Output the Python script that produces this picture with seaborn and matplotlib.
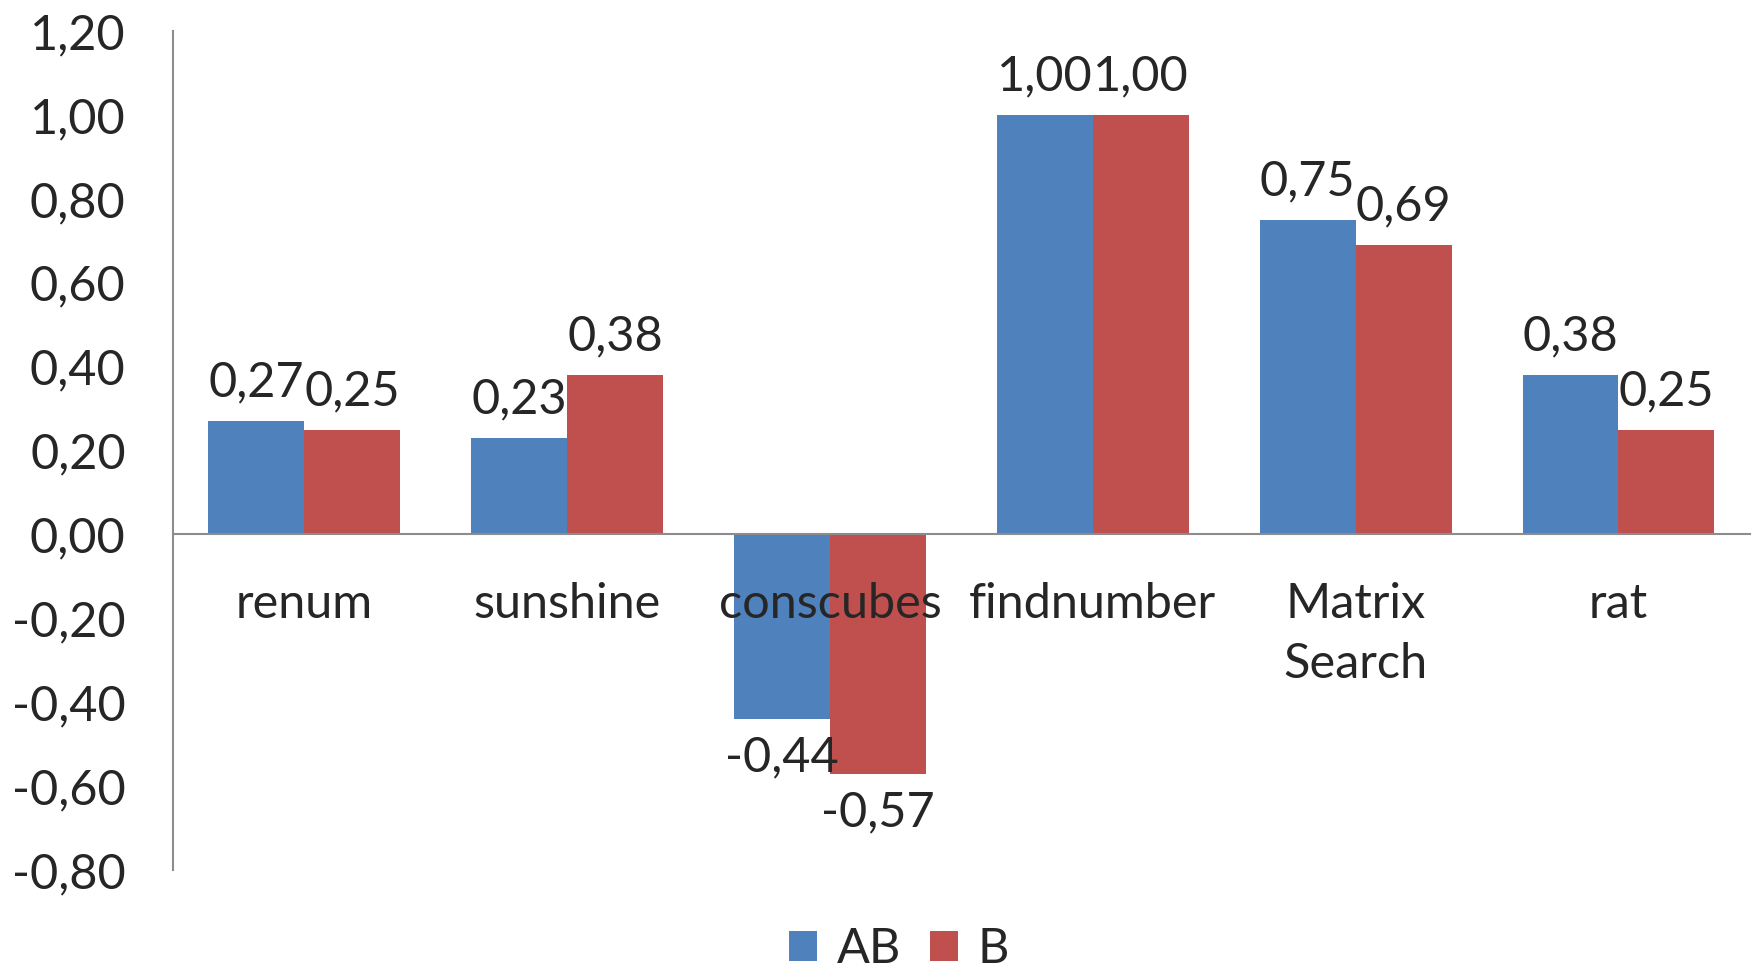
import pandas as pd
import matplotlib
matplotlib.use("Agg")
import matplotlib.pyplot as plt
from matplotlib.patches import Patch
import seaborn as sns

# Données
programmes = ["renum", "sunshine", "conscubes", "findnumber", "Matrix\nSearch", "rat"]
valeurs_ab = [0.27, 0.23, -0.44, 1.00, 0.75, 0.38]
valeurs_b = [0.25, 0.38, -0.57, 1.00, 0.69, 0.25]
series = ["AB", "B"]
couleurs = ["#4F81BD", "#C0504D"]
yticks = [-0.8, -0.6, -0.4, -0.2, 0.0, 0.2, 0.4, 0.6, 0.8, 1.0, 1.2]

df = pd.DataFrame({
    "programme": programmes * 2,
    "valeur": valeurs_ab + valeurs_b,
    "serie": [series[0]] * len(programmes) + [series[1]] * len(programmes),
})

sns.set_style("white")
plt.rcParams["font.family"] = ["Lato", "DejaVu Sans"]
taille = 35

fig = plt.figure(figsize=(17.56, 9.76), dpi=100)
ax = fig.add_axes([0.0985, 0.1086, 0.898, 0.8594])

sns.barplot(data=df, x="programme", y="valeur", hue="serie", palette=couleurs,
            width=0.73, saturation=1, linewidth=0, legend=False, ax=ax)
ax.set_axisbelow(False)

virgule = lambda v: f"{v:.2f}".replace(".", ",")
for cont in ax.containers:
    ax.bar_label(cont, fmt=virgule, padding=12, fontsize=taille)

ax.set_ylim(-0.8, 1.2)
ax.set_xlim(-0.5, 5.5)
ax.set_yticks(yticks)
ax.set_yticklabels([virgule(t) for t in yticks], fontsize=taille)
ax.tick_params(axis="y", length=0, pad=34)
ax.tick_params(axis="x", length=0, pad=34, labelsize=taille)
ax.set_xlabel("")
ax.set_ylabel("")

for s in ["top", "right"]:
    ax.spines[s].set_visible(False)
ax.spines["bottom"].set_position(("data", 0))
for s in ["left", "bottom"]:
    ax.spines[s].set_color("#8c8c8c")
    ax.spines[s].set_linewidth(1.5)

poignees = [Patch(facecolor=c, edgecolor="none") for c in couleurs]
fig.legend(poignees, series, loc="lower center", bbox_to_anchor=(0.512, -0.04),
           ncol=2, frameon=False, fontsize=taille, handlelength=0.58, handleheight=0.58,
           handletextpad=0.4, columnspacing=0.6)

# interligne de "Matrix Search" : à appliquer après un premier rendu
fig.canvas.draw()
for lab in ax.get_xticklabels():
    lab.set_linespacing(1.45)

fig.savefig("out.png", dpi=100)
